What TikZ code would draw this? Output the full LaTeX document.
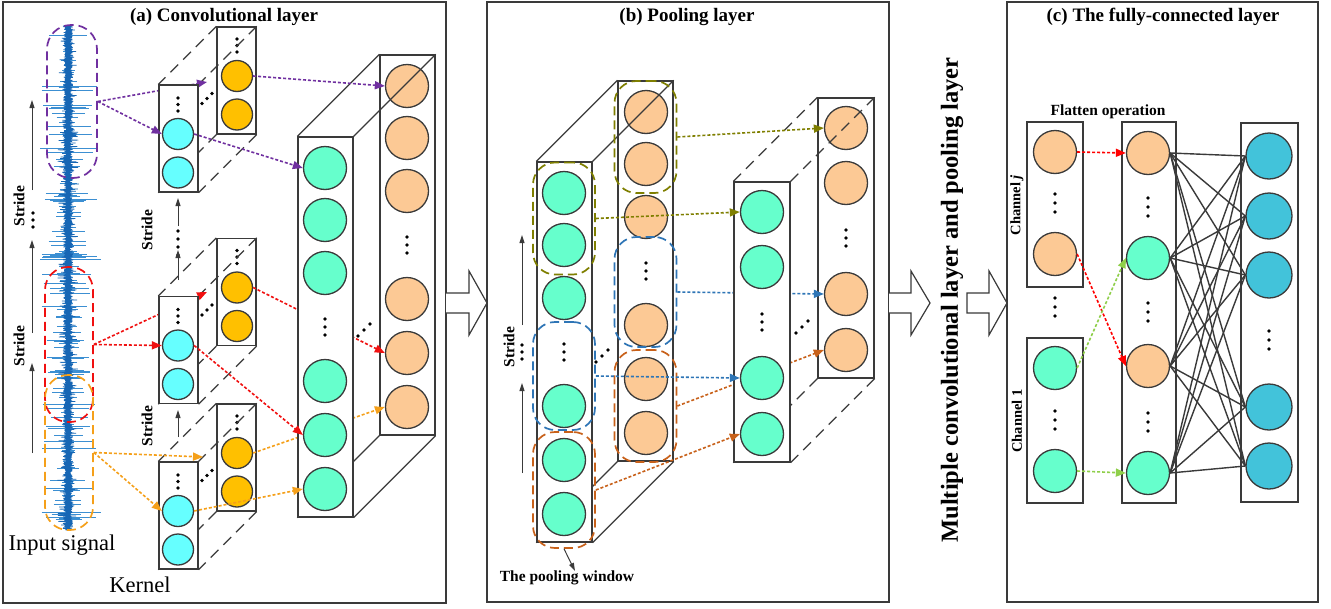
\documentclass[tikz,border=0pt]{standalone}
\usepackage{fontspec}
\setmainfont{Liberation Serif}
\usetikzlibrary{arrows.meta}
\definecolor{lc}{HTML}{3A3A3A}
\definecolor{ccyan}{HTML}{66FFFF}
\definecolor{camber}{HTML}{FFC000}
\definecolor{cgreen}{HTML}{66FFCC}
\definecolor{cpeach}{HTML}{FCC995}
\definecolor{cblue}{HTML}{42C3DA}
\definecolor{sigd}{HTML}{1766B4}
\definecolor{sigl}{HTML}{3C8FD2}
\definecolor{cpurple}{HTML}{7030A0}
\definecolor{cred}{HTML}{F01010}
\definecolor{corange}{HTML}{F5A01A}
\definecolor{colive}{HTML}{7F7F00}
\definecolor{cbl}{HTML}{2E75B6}
\definecolor{cbrown}{HTML}{C8611A}
\definecolor{clime}{HTML}{8FCF4A}
\tikzset{
  vd/.pic={\foreach \t in {-1,0,1} \fill ({0},{\t*#1}) circle[radius=1.9pt];},
  dd/.pic={\foreach \t in {-1,0,1} \fill ({\t*#1},{-\t*#1}) circle[radius=1.9pt];},
}
\begin{document}
\begin{tikzpicture}[x=1pt,y=-1pt,
  panel/.style={draw=lc, line width=1.4pt},
  face/.style={draw=lc, line width=1.3pt, fill=white, inner sep=0pt},
  kc/.style={circle, draw=lc, line width=1.3pt, inner sep=0pt, minimum size=31pt},
  bc/.style={circle, draw=lc, line width=1.3pt, inner sep=0pt, minimum size=43pt},
  edge/.style={draw=lc, line width=1.3pt},
  hid/.style={draw=lc, line width=1.2pt, dash pattern=on 11pt off 7pt},
  win/.style={draw, line width=1.7pt, dash pattern=on 9pt off 5pt, rounded corners=22pt, inner sep=0pt},
  flow/.style={line width=1.6pt, dash pattern=on 3pt off 2pt, -{Triangle[length=10pt,width=8pt]}},
  tick/.style={draw=lc, line width=1pt, -{Triangle[length=8pt,width=5pt]}},
  fc/.style={draw=lc, line width=1.4pt},
  hollow/.style={draw=lc, line width=1.2pt, fill=white, line join=miter},
  title/.style={font=\fontsize{19}{22}\selectfont\bfseries},
  lab/.style={font=\fontsize{15.5}{18}\selectfont\bfseries},
  chan/.style={font=\fontsize{14.5}{17}\selectfont\bfseries},
  big/.style={font=\fontsize{22.5}{26}\selectfont},
]
\useasboundingbox (0,0) rectangle (1331,608);
\fill[white] (0,0) rectangle (1331,608);

% panel frames and titles
\draw[panel] (3,2) rectangle (446,603);
\draw[panel] (487,2) rectangle (889,602);
\draw[panel] (1007,2) rectangle (1318,602);
\node[title] (ta) at (224,17) {(a) Convolutional layer};
\node[title] (tb) at (687,17) {(b) Pooling layer};
\node[title] (tc) at (1163,17) {(c) The fully-connected layer};

% hollow block arrows between the stages
\draw[hollow] (446,293) -- (469,293) -- (469,271) -- (487,303) -- (469,335) -- (469,313) -- (446,313);
\draw[hollow] (889,293) -- (911,293) -- (911,271) -- (930,303) -- (911,335) -- (911,313) -- (889,313);
\draw[hollow] (967,293) -- (989,293) -- (989,271) -- (1007,303) -- (989,335) -- (989,313) -- (967,313) -- cycle;
\node[font=\fontsize{24.5}{28}\selectfont\bfseries, rotate=90] (mul) at (952,300) {Multiple convolutional layer and pooling layer};

% ---------------- (a) convolutional layer ----------------
% input signal: spikes and dense core
\pgfmathsetseed{3}
\foreach \i in {1,...,200}{
  \pgfmathsetmacro\yy{28+500*rnd}
  \pgfmathsetmacro\wl{3+25*pow(rnd,2.4)}
  \pgfmathsetmacro\wr{\wl*(0.7+0.6*rnd)}
  \draw[sigl, line width=0.7pt] (68-\wl,\yy) -- (68+\wr,\yy);
}
\draw[sigd, line width=0.7pt, line join=bevel] plot[samples=1401, domain=0:1400, variable=\s]
  ({68+(2*mod(round(\s),2)-1)*(1.8+3*rnd+7*pow(rnd,10))}, {26+0.36*\s});

% receptive windows on the signal
\node[win, draw=cpurple, minimum width=50pt, minimum height=153pt, rounded corners=24pt] (wP) at (72,101.5) {};
\node[win, draw=cred, minimum width=48pt, minimum height=155pt, rounded corners=23pt] (wR) at (69,344.5) {};
\node[win, draw=corange, minimum width=48pt, minimum height=155pt, rounded corners=23pt] (wY) at (69,452.5) {};

% stride marks beside the signal
\draw[tick] (32,190) -- (32,100);
\draw[tick] (32,333) -- (32,240);
\draw[tick] (32,453) -- (32,363);
\pic at (33,220) {vd=7};
\node[lab, rotate=90] (s1) at (19,206) {Stride};
\node[lab, rotate=90] (s2) at (19,346) {Stride};

% kernels: back faces
\foreach \k/\yc in {1/80.5, 2/292, 3/457.5}{
  \node[face, minimum width=39pt, minimum height=107pt] (k\k b) at (236.5,\yc) {};
  \node[kc, fill=camber] (k\k o1) at (237,\yc-4.5) {};
  \node[kc, fill=camber] (k\k o2) at (237,\yc+34) {};
  \pic at (237,\yc-35) {vd=6.5};
  \foreach \a in {north west, north east, south east, south west}
    \draw[hid] (k\k b.\a) -- ++(-58,58);
}
% arrows running behind the kernel fronts
\coordinate (hP) at (207,82);
\coordinate (hR) at (207,292);
\draw[flow, cpurple] (wP.east) -- (hP);
\draw[flow, cred] (wR.east) -- (hR);
% kernels: front faces
\foreach \k/\yc in {1/138.5, 2/350, 3/515.5}{
  \node[face, minimum width=39pt, minimum height=107pt] (k\k f) at (178.5,\yc) {};
  \node[kc, fill=ccyan] (k\k c1) at (178,\yc-4.5) {};
  \node[kc, fill=ccyan] (k\k c2) at (178,\yc+34) {};
  \pic at (178,\yc-34) {vd=6.5};
  \pic at (207,\yc-40) {dd=5};
}
% kernel stride marks
\draw[tick] (178,226) -- (178,198);
\foreach \t in {231,239,247,255} \fill (178,\t) circle[radius=1.8pt];
\draw[tick] (178,280) -- (178,250);
\draw[tick] (178,437) -- (178,410);
\node[lab, rotate=90] (s3) at (147,230) {Stride};
\node[lab, rotate=90] (s4) at (147,426) {Stride};

% feature maps: back face
\node[face, minimum width=55pt, minimum height=380pt] (bb) at (407.5,245) {};
\foreach \i/\d in {1/-159, 2/-107, 3/-54, 4/54, 5/108, 6/162}
  \node[bc, fill=cpeach] (bb\i) at (407,{245+(\d)}) {};
\pic at (407,245) {vd=8};
\foreach \a in {north west, north east, south east, south west}
  \draw[edge] (bb.\a) -- ++(-82,82);
\draw[flow, cred] (k2o1.east) -- (bb5.west);
\draw[flow, corange] (k3o1.east) -- (bb6.west);
% feature maps: front face
\node[face, minimum width=55pt, minimum height=380pt] (bf) at (325.5,327) {};
\foreach \i/\d in {1/-159, 2/-107, 3/-54, 4/54, 5/108, 6/162}
  \node[bc, fill=cgreen] (bf\i) at (325,{327+(\d)}) {};
\pic at (325,327) {vd=8};
\pic at (364,330) {dd=6};

% convolution connections
\draw[flow, cpurple] (wP.east) -- (k1c1.west);
\draw[flow, cpurple] (k1o1.east) -- (bb1.west);
\draw[flow, cpurple] (k1c1.east) -- (bf1.west);
\draw[flow, cred] (wR.east) -- (k2c1.west);
\draw[flow, cred] (k2c1.east) -- (bf5.west);
\coordinate (hY) at (203,457);
\draw[flow, corange] (wY.east) -- (hY);
\draw[flow, corange] (wY.east) -- (k3c1.west);
\draw[flow, corange] (k3c1.east) -- (bf6.west);

\node[big] (lin) at (62,545) {Input signal};
\node[big] (lk) at (140,585) {Kernel};

% ---------------- (b) pooling layer ----------------
\node[face, minimum width=55pt, minimum height=380pt] (lb) at (645.5,271) {};
\foreach \i/\d in {1/-159, 2/-107, 3/-54, 4/54, 5/108, 6/162}
  \node[bc, fill=cpeach] (lb\i) at (646,{271+(\d)}) {};
\pic at (646,271) {vd=8};
\foreach \a in {north west, north east, south east, south west}
  \draw[edge] (lb.\a) -- ++(-81,81);
\node[face, minimum width=55pt, minimum height=380pt] (lf) at (564.5,352) {};
\foreach \i/\d in {1/-159, 2/-107, 3/-54, 4/54, 5/108, 6/162}
  \node[bc, fill=cgreen] (lf\i) at (564,{352+(\d)}) {};
\pic at (564,352) {vd=8};
\pic at (602,356) {dd=6};

% pooling windows
\node[win, draw=colive, minimum width=62pt, minimum height=112pt] (wOf) at (564,218.5) {};
\node[win, draw=colive, minimum width=62pt, minimum height=112pt] (wOb) at (645.5,137) {};
\node[win, draw=cbl, minimum width=62pt, minimum height=108pt] (wBf) at (564,376) {};
\node[win, draw=cbl, minimum width=62pt, minimum height=110pt] (wBb) at (645.5,292) {};
\node[win, draw=cbrown, minimum width=62pt, minimum height=116pt] (wRf) at (564,490) {};
\node[win, draw=cbrown, minimum width=62pt, minimum height=112pt] (wRb) at (645.5,406) {};

% pooled maps
\node[face, minimum width=56pt, minimum height=280pt] (rb) at (846,238) {};
\foreach \i/\d in {1/-110, 2/-55, 3/56, 4/112}
  \node[bc, fill=cpeach] (rb\i) at (846,{238+(\d)}) {};
\pic at (846,238) {vd=8};
\foreach \a in {north west, north east, south east, south west}
  \draw[hid] (rb.\a) -- ++(-84,84);
\draw[flow, cbl] (wBb.east) -- (rb3.west);
\draw[flow, cbrown] (wRb.east) -- (rb4.west);
\node[face, minimum width=56pt, minimum height=280pt] (rf) at (762,322) {};
\foreach \i/\d in {1/-110, 2/-55, 3/56, 4/112}
  \node[bc, fill=cgreen] (rf\i) at (762,{322+(\d)}) {};
\pic at (762,322) {vd=8};
\pic at (802,327) {dd=6};

\draw[flow, colive] (wOf.east) -- (rf1.west);
\draw[flow, colive] (wOb.east) -- (rb1.west);
\draw[flow, cbl] (wBf.east) -- (rf3.west);
\draw[flow, cbrown] (wRf.east) -- (rf4.west);

% pooling stride marks and label
\draw[tick] (522,325) -- (522,235);
\pic at (522,352) {vd=7};
\draw[tick] (522,473) -- (522,383);
\node[lab, rotate=90] (s5) at (509,347) {Stride};
\node[lab] (pw) at (567,578) {The pooling window};
\coordinate (pwt) at (575,571);
\draw[tick] (wRf.south) -- (pwt);

% ---------------- (c) fully-connected layer ----------------
\node[lab] (fo) at (1108,112) {Flatten operation};
\node[face, minimum width=56pt, minimum height=165pt] (cj) at (1055,204.5) {};
\node[face, minimum width=56pt, minimum height=165pt] (cone) at (1055,420.5) {};
\node[face, minimum width=54pt, minimum height=381pt] (mb) at (1149,312.5) {};
\node[face, minimum width=57pt, minimum height=379pt] (rbx) at (1269.5,312.5) {};
\node[chan, rotate=90] (lj) at (1017,205) {Channel \textit{j}};
\node[chan, rotate=90] (l1) at (1017,421) {Channel 1};

\node[bc, fill=cpeach] (cj1) at (1055,152) {};
\node[bc, fill=cpeach] (cj2) at (1055,254) {};
\node[bc, fill=cgreen] (co1) at (1055,368) {};
\node[bc, fill=cgreen] (co2) at (1055,471) {};
\pic at (1055,203) {vd=9};
\pic at (1055,420) {vd=9};
\pic at (1055,307) {vd=9};

\node[bc, fill=cpeach] (m1) at (1148,153) {};
\node[bc, fill=cgreen] (m2) at (1148,258) {};
\node[bc, fill=cpeach] (m3) at (1148,366) {};
\node[bc, fill=cgreen] (m4) at (1148,473) {};
\pic at (1148,207) {vd=9};
\pic at (1148,312) {vd=9};
\pic at (1148,422) {vd=9};

\foreach \i/\yc in {1/156, 2/216, 3/275, 4/407, 5/466}
  \node[bc, fill=cblue, minimum size=46pt] (r\i) at (1269,\yc) {};
\pic at (1269,340) {vd=9};

\foreach \m in {1,2,3,4}
  \foreach \r in {1,2,3,4,5}
    \draw[fc] (m\m.east) -- (r\r.west);

\draw[flow, red] (cj1.east) -- (m1.west);
\draw[flow, red] (cj2.east) -- (m3.west);
\draw[flow, clime] (co1.east) -- (m2.west);
\draw[flow, clime] (co2.east) -- (m4.west);
\end{tikzpicture}
\end{document}
